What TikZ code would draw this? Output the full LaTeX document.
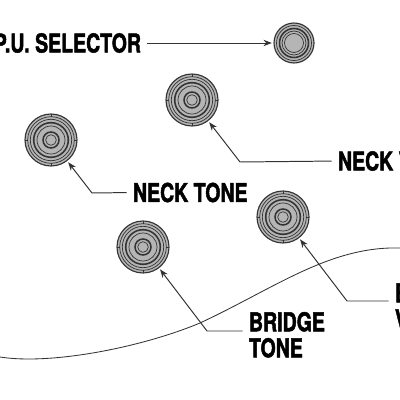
\documentclass[tikz,border=0pt]{standalone}
\usepackage{fontspec}
\setmainfont{TeX Gyre Heros}
\newfontfamily\lblfamily[FakeStretch=0.75,BoldFeatures={FakeBold=1.8}]{TeX Gyre Heros}
\newcommand\lblfont{\lblfamily\bfseries\fontsize{18.5}{18.5}\selectfont}
\usetikzlibrary{arrows.meta}
\definecolor{knobc}{HTML}{B5B5B5}
\definecolor{ringc}{HTML}{333333}
\definecolor{leadc}{HTML}{333333}
\begin{document}
\begin{tikzpicture}[x=0.025cm, y=-0.025cm,
    knob/.style={circle, draw=ringc, fill=knobc, line width=0.8pt, inner sep=0pt, outer sep=1.5pt, minimum size=1.3cm},
    smallknob/.style={knob, minimum size=1cm},
    ring/.style={draw=ringc, line width=0.5pt},
    thickring/.style={draw=ringc, line width=1.1pt},
    lbl/.style={font=\lblfont, inner sep=0pt, outer sep=0pt, align=left},
    lead/.style={draw=leadc, line width=0.7pt, shorten <=4.5pt, -{Stealth[length=6pt,width=4.5pt]}},
    body/.style={draw=leadc, line width=0.6pt}]
  \useasboundingbox (0,0) rectangle (400,400);
  % body outline
  \draw[body] (0,357) .. controls (50,365) and (140,348) .. (200,323)
              .. controls (275,288) and (330,246) .. (400,248);
  % knobs
  \node[smallknob] (sel) at (294,43) {};
  \node[knob] (nv) at (192,100) {};
  \node[knob] (nt) at (51,140) {};
  \node[knob] (bv) at (283,217) {};
  \node[knob] (bt) at (143,247) {};
  \foreach \k in {nv,nt,bv,bt}{
    \foreach \r in {23.3,20.7,14,5.3} \draw[ring] (\k) circle (\r);
    \draw[thickring] (\k) circle (17.3);
    \draw[thickring] (\k) circle (8);
    \foreach \a in {0,90,180,270} \draw[ring] (\k) ++(\a:23.3) -- ++(\a:2.7);
  }
  \foreach \r in {17.5,12,9.5} \draw[ring] (sel) circle (\r);
  \draw[thickring] (sel) circle (14.5);
  % labels
  \node[lbl, anchor=east] (sellbl) at (141,43) {P.U. SELECTOR};
  \node[lbl, anchor=west] (nvlbl) at (338,161) {NECK VOLUME};
  \node[lbl, anchor=west] (ntlbl) at (133,192.5) {NECK TONE};
  \node[lbl, anchor=north west] (btlbl) at (249,312) {BRIDGE\\TONE};
  \node[lbl, anchor=north west] (bvlbl) at (395,283) {BRIDGE\\VOLUME};
  % leaders
  \coordinate (nvbend) at (240,162);
  \coordinate (ntbend) at (92,193);
  \coordinate (btstart) at (249,331);
  \coordinate (btbend) at (207,331);
  \coordinate (bvstart) at (395,301);
  \coordinate (bvbend) at (347,301);
  \draw[lead] (sellbl) -- (sel);
  \draw[lead] (nvlbl.west) -- (nvbend) -- (nv);
  \draw[lead] (ntlbl.west) -- (ntbend) -- (nt);
  \draw[lead] (btstart) -- (btbend) -- (bt);
  \draw[lead] (bvstart) -- (bvbend) -- (bv);
\end{tikzpicture}
\end{document}
